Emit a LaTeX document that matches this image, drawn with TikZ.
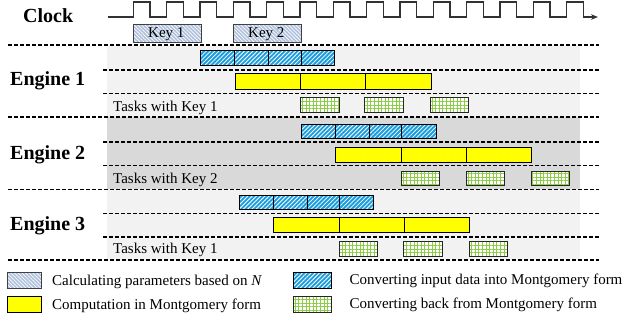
\documentclass[tikz,border=0pt]{standalone}
\usepackage{fontspec}
\setmainfont{Liberation Serif}
\usetikzlibrary{patterns.meta,arrows.meta}
\definecolor{cblue}{RGB}{28,158,222}
\definecolor{cyel}{RGB}{255,255,0}
\definecolor{cgreen}{RGB}{140,205,70}
\definecolor{ckey}{RGB}{176,194,222}
\definecolor{bglight}{RGB}{242,242,242}
\definecolor{bgdark}{RGB}{217,217,217}
\definecolor{clk}{RGB}{50,50,50}
\tikzset{
  x=1pt,y=-1pt,
  lbl/.style={font=\fontsize{20}{24}\selectfont\bfseries,inner sep=0pt,anchor=base west},
  txt/.style={font=\fontsize{15}{18}\selectfont,inner sep=0pt,anchor=base west},
  sep/.style={dashed,dash pattern=on 4pt off 2pt,line width=1.1pt,black},
  keyseg/.style={draw=black!75,line width=0.8pt,preaction={fill=ckey},pattern={Lines[angle=-45,distance=2.6pt,line width=0.7pt]},pattern color=white},
  blueseg/.style={draw=black,line width=1pt,preaction={fill=cblue},pattern={Lines[angle=45,distance=3pt,line width=0.8pt]},pattern color=white},
  yelseg/.style={draw=black,line width=1pt,preaction={fill=cyel},pattern={Dots[distance=7pt,radius=0.45pt]},pattern color=white},
  grnseg/.style={draw=black!85,line width=1pt,preaction={fill=white},pattern={Hatch[angle=0,distance=3.6pt,line width=0.9pt]},pattern color=cgreen},
  clockline/.style={draw=clk,line width=1.2pt,-{Stealth[length=7pt,width=5.5pt]}}
}
\begin{document}
\begin{tikzpicture}
\useasboundingbox (0,0) rectangle (626,321);
% backgrounds
\fill[bglight] (107,45) rectangle (580,117);
\fill[bgdark] (107,117) rectangle (580,189);
\fill[bglight] (107,189) rectangle (580,260);
% clock
\coordinate (clkstart) at (108,17);
\coordinate (clkend) at (598,17);
\draw[clockline] (clkstart) -- (133.33,17)
  foreach \k in {1,...,13}{ -- ++(0,-15) -- ++(16.667,0) -- ++(0,15) -- ++(16.667,0)}
  -- ++(0,-15) -- ++(16.667,0) -- ++(0,15) -- (clkend);
\node[lbl] (clock) at (23,22.7) {Clock};
% keys
\draw[keyseg] (133,24) rectangle (201,42);
\draw[keyseg] (233,24) rectangle (301,42);
\node[txt] (key1) at (148,37.3) {Key 1};
\node[txt] (key2) at (248,37.3) {Key 2};
% separators
\foreach \yy in {45,117,189.5,260}{\draw[sep] (8,\yy) -- (599,\yy);}
\foreach \yy in {70,93.5,142,165.5,213.5,237}{\draw[sep] (103,\yy) -- (599,\yy);}
% labels
\node[lbl] (eng1) at (10,85.7) {Engine 1};
\node[lbl] (eng2) at (10,159) {Engine 2};
\node[lbl] (eng3) at (10,230) {Engine 3};
\node[txt] (t1) at (113,111.5) {Tasks with Key 1};
\node[txt] (t2) at (113,183.5) {Tasks with Key 2};
\node[txt] (t3) at (113,253.5) {Tasks with Key 1};
% engine 1
\foreach \a/\b in {200/234,234/268,268/301,301/334}{\draw[blueseg] (\a,51) rectangle (\b,65.7);}
\foreach \a/\b in {235/300,300/365,365/431}{\draw[yelseg] (\a,73.3) rectangle (\b,89.3);}
\foreach \a/\b in {300/339,364/403,430/468}{\draw[grnseg] (\a,97.3) rectangle (\b,112.3);}
% engine 2
\foreach \a/\b in {301.7/335,335/369,369/401,401/436}{\draw[blueseg] (\a,124) rectangle (\b,138.3);}
\foreach \a/\b in {335.7/401,401/466,466/531}{\draw[yelseg] (\a,147.3) rectangle (\b,162.3);}
\foreach \a/\b in {401/439,466/504,531/569}{\draw[grnseg] (\a,171) rectangle (\b,185.7);}
% engine 3
\foreach \a/\b in {239/273,273/307,307/339,339/373}{\draw[blueseg] (\a,195) rectangle (\b,209.3);}
\foreach \a/\b in {273/339,339/404,404/469}{\draw[yelseg] (\a,217.3) rectangle (\b,232.7);}
\foreach \a/\b in {339/377,403.5/442,469/507}{\draw[grnseg] (\a,241.3) rectangle (\b,256);}
% legend
\draw[keyseg] (7.5,272.3) rectangle (41.7,288.3);
\draw[yelseg] (7.5,296.7) rectangle (41.7,312.3);
\draw[blueseg] (293.3,272.3) rectangle (331,288.3);
\draw[grnseg] (293.3,296.7) rectangle (331,312.3);
\node[txt] (lg1) at (52,285) {Calculating parameters based on \textit{N}};
\node[txt] (lg2) at (52,309) {Computation in Montgomery form};
\node[txt] (lg3) at (349.3,284.5) {Converting input data into Montgomery form};
\node[txt] (lg4) at (349.3,308.5) {Converting back from Montgomery form};
\end{tikzpicture}
\end{document}
